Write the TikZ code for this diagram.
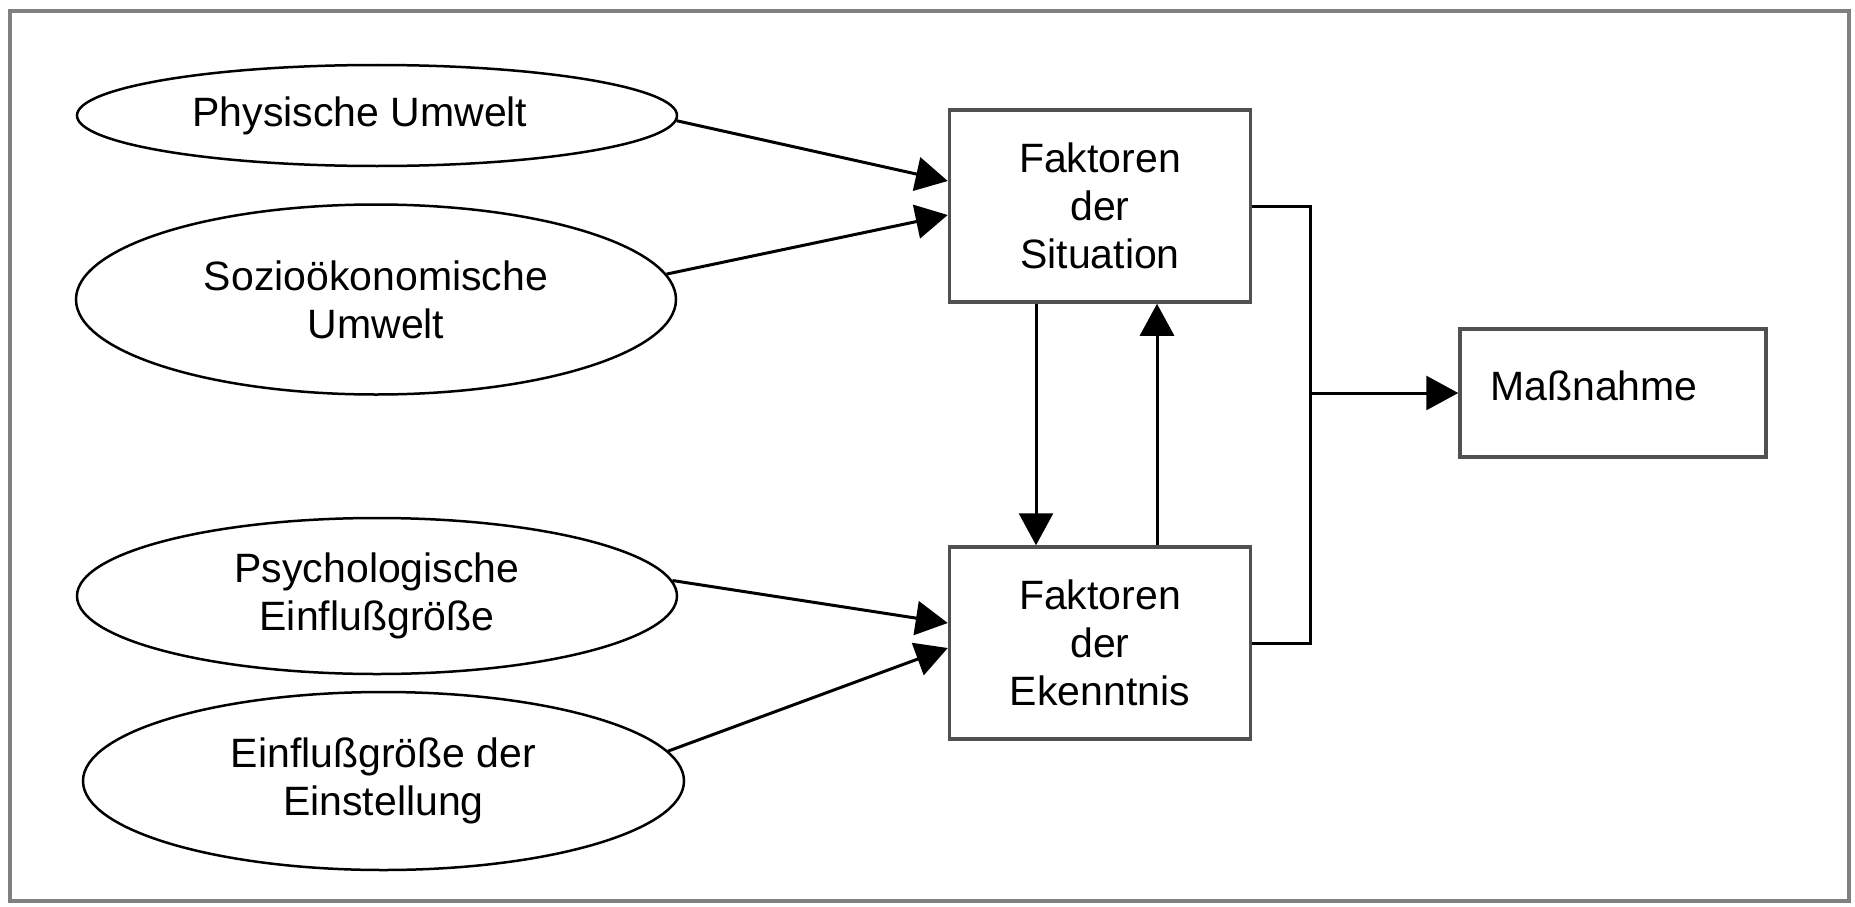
\documentclass[tikz,border=0pt]{standalone}
\usepackage{fontspec}
\setmainfont{Liberation Sans}
\usetikzlibrary{shapes.geometric,arrows.meta}
\definecolor{boxgray}{HTML}{505050}
\definecolor{framegray}{HTML}{808080}
\begin{document}
\begin{tikzpicture}[x=1pt,y=-1pt,
  every node/.style={font=\fontsize{41}{48}\selectfont, align=center},
  oval/.style={ellipse, draw=black, line width=2.5pt, inner sep=0pt, minimum width=600pt},
  fbox/.style={rectangle, draw=boxgray, line width=3.5pt, minimum width=301pt, minimum height=192pt, inner sep=0pt},
  conn/.style={line width=3pt, black},
  arr/.style={conn, -{Triangle[length=32pt,width=34pt]}}]
\useasboundingbox (0,0) rectangle (1855,907);
\draw[framegray, line width=4pt] (10,11) rectangle (1849,901);

\node[oval, minimum height=101pt, label={[name=physt, xshift=-17pt]center:Physische Umwelt}] (phys) at (377,115.5) {};
\node[oval, minimum height=190pt] (sozio) at (376,299.5) {Sozioökonomische\\Umwelt};
\node[oval, minimum height=156pt] (psych) at (377,596) {Psychologische\\Einflußgröße};
\node[oval, minimum width=601pt, minimum height=178pt] (einst) at (383.5,781) {Einflußgröße der\\Einstellung};

\node[fbox] (sit) at (1100,206) {Faktoren\\der\\Situation};
\node[fbox] (ek) at (1100,643) {Faktoren\\der\\Ekenntnis};
\node[fbox, minimum width=306pt, minimum height=128pt, label={[name=masst, xshift=-19pt, yshift=7pt]center:Maßnahme}] (mass) at (1613,393) {};

\draw[arr] (phys.-1.5) -- ([yshift=25pt]sit.west);
\draw[arr] (sozio.5) -- ([yshift=-9pt]sit.west);
\draw[arr] (psych.3) -- ([yshift=20pt]ek.west);
\draw[arr] (einst.6) -- ([yshift=-5pt]ek.west);

\draw[arr] ([xshift=-64pt]sit.south) -- ([xshift=-64pt]ek.north);
\draw[arr] ([xshift=57pt]ek.north) -- ([xshift=57pt]sit.south);

\coordinate (jn) at (1310,393);
\draw[conn] (sit.east) -| (jn) |- (ek.east);
\draw[arr] (jn) -- (mass.west);
\end{tikzpicture}
\end{document}
